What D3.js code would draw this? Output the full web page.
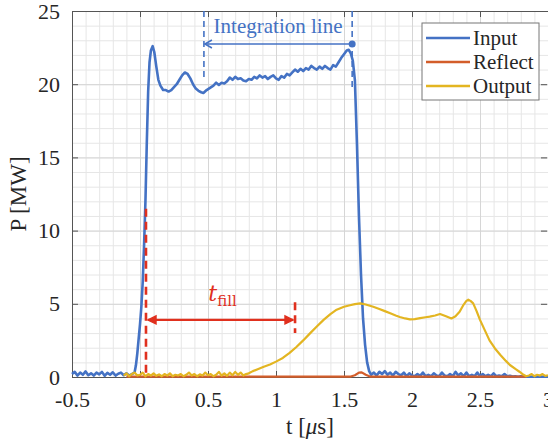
<!DOCTYPE html>
<html><head><meta charset="utf-8">
<script src="https://cdn.jsdelivr.net/npm/d3@7"></script>
<style>body{margin:0;background:#fff;overflow:hidden}svg{display:block}</style>
</head><body>
<svg id="chart" width="548" height="445"></svg>
<script>
// ---------- data ----------
const seriesNames = ["Input", "Reflect", "Output"];
const seriesColors = ["#4472C4", "#D35D2A", "#E3B521"];
const xTicks = [-0.5, 0, 0.5, 1, 1.5, 2, 2.5, 3];
const xTickLabels = ["-0.5", "0", "0.5", "1", "1.5", "2", "2.5", "3"];
const yTicks = [0, 5, 10, 15, 20, 25];
const yTickLabels = ["0", "5", "10", "15", "20", "25"];

const inputData = [
[-0.50,.2],[-0.48,.35],[-0.46,.1],[-0.44,.3],[-0.42,.15],[-0.40,.38],[-0.38,.12],[-0.36,.25],[-0.34,.1],[-0.32,.3],
[-0.30,.18],[-0.28,.35],[-0.26,.08],[-0.24,.28],[-0.22,.15],[-0.20,.32],[-0.18,.1],[-0.16,.22],[-0.14,.3],[-0.12,.12],
[-0.10,.25],[-0.08,.1],[-0.06,.2],[-0.04,.3],[-0.03,.8],[-0.02,1.6],[-0.01,2.6],[0,3.6],[0.01,4.8],[0.02,6.5],
[0.03,9],[0.04,12],[0.05,16],[0.06,19.5],[0.07,21.5],[0.08,22.3],[0.093,22.6],[0.105,22.2],[0.12,21.2],[0.135,20.3],
[0.15,19.9],[0.17,19.6],[0.19,19.6],[0.21,19.5],[0.23,19.6],[0.25,19.8],[0.27,20.0],[0.29,20.3],[0.31,20.6],[0.33,20.8],
[0.35,20.7],[0.37,20.4],[0.39,20.0],[0.41,19.7],[0.43,19.55],[0.45,19.45],[0.466,19.4],[0.49,19.6],[0.515,19.75],[0.54,19.9],
[0.56,20.1],[0.58,19.95],[0.60,20.1],[0.62,20.05],[0.64,20.2],[0.66,20.45],[0.68,20.3],[0.70,20.5],[0.72,20.35],[0.74,20.4],
[0.76,20.25],[0.78,20.2],[0.80,20.35],[0.82,20.3],[0.84,20.5],[0.86,20.4],[0.88,20.6],[0.90,20.45],[0.92,20.55],[0.94,20.35],
[0.96,20.5],[0.98,20.6],[1.00,20.4],[1.02,20.3],[1.04,20.55],[1.06,20.45],[1.08,20.7],[1.10,20.6],[1.12,20.8],[1.14,21.0],
[1.16,20.85],[1.18,21.05],[1.20,20.9],[1.22,21.1],[1.24,21.0],[1.26,21.25],[1.28,21.1],[1.30,21.0],[1.32,21.2],[1.34,21.05],
[1.36,21.25],[1.38,21.1],[1.40,21.0],[1.42,21.3],[1.44,21.2],[1.46,21.5],[1.48,21.8],[1.50,22.05],[1.52,22.3],[1.535,22.35],
[1.55,22.1],[1.565,21.6],[1.58,20.3],[1.595,16],[1.61,11],[1.625,7],[1.64,4],[1.655,2.2],[1.67,1.0],[1.685,0.4],
[1.70,0.15],[1.72,.3],[1.74,.1],[1.76,.35],[1.78,.2],[1.80,.4],[1.82,.15],[1.84,.3],[1.86,.1],[1.88,.35],
[1.90,.2],[1.92,.12],[1.94,.3],[1.96,.05],[1.98,.25],[2.00,.1],[2.02,.05],[2.04,.2],[2.06,.08],[2.08,.3],
[2.10,.05],[2.12,.15],[2.14,.05],[2.16,.25],[2.18,.1],[2.20,.05],[2.22,.3],[2.24,.1],[2.26,.05],[2.28,.2],
[2.30,.05],[2.32,.35],[2.34,.1],[2.36,.25],[2.38,.05],[2.40,.3],[2.42,.05],[2.44,.15],[2.46,.05],[2.48,.3],
[2.50,.05],[2.52,.2],[2.54,.05],[2.56,.15],[2.58,.05],[2.60,.25],[2.62,.05],[2.64,.1],[2.66,.05],[2.68,.2],
[2.70,.05],[2.72,.08],[2.74,.03],[2.76,.05],[2.78,.02],[2.80,.04],[2.85,.02],[2.90,.03],[3.00,.02]
];
const reflectData = [
[-0.1,0.03],[1.55,0.03],[1.58,0.12],[1.61,0.3],[1.63,0.32],[1.66,0.15],[1.69,0.03],[2.84,0.03]
];
const outputData = [
[-0.12,.1],[-0.10,.25],[-0.08,.05],[-0.06,.2],[-0.04,.3],[-0.02,.1],[0,.15],[0.02,.3],[0.04,.05],[0.06,.2],
[0.08,.1],[0.10,.25],[0.12,.08],[0.14,.18],[0.16,.05],[0.18,.2],[0.20,.1],[0.22,.25],[0.24,.05],[0.26,.15],
[0.28,.1],[0.30,.2],[0.32,.05],[0.34,.15],[0.36,.3],[0.38,.1],[0.40,.2],[0.42,.05],[0.44,.18],[0.46,.1],
[0.48,.3],[0.50,.12],[0.52,.2],[0.54,.05],[0.56,.15],[0.58,.35],[0.60,.1],[0.62,.25],[0.64,.08],[0.66,.3],
[0.68,.12],[0.70,.35],[0.72,.15],[0.74,.3],[0.76,.1],[0.78,.2],[0.80,.25],[0.83,.4],[0.87,.55],[0.91,.7],
[0.956,.85],[1.0,1.05],[1.05,1.3],[1.10,1.65],[1.15,2.05],[1.20,2.5],[1.25,2.98],[1.30,3.45],[1.35,3.9],[1.40,4.3],
[1.446,4.6],[1.50,4.8],[1.544,4.9],[1.58,4.98],[1.62,5.03],[1.66,4.95],[1.715,4.8],[1.76,4.65],[1.80,4.5],[1.84,4.35],
[1.88,4.2],[1.91,4.1],[1.95,4.0],[1.985,3.94],[2.02,3.95],[2.06,4.02],[2.10,4.08],[2.13,4.12],[2.17,4.2],[2.206,4.3],
[2.25,4.15],[2.29,4.0],[2.32,4.15],[2.35,4.46],[2.38,4.95],[2.40,5.2],[2.414,5.28],[2.43,5.2],[2.45,5.03],[2.475,4.5],
[2.50,3.9],[2.535,3.2],[2.57,2.5],[2.61,1.95],[2.65,1.5],[2.69,1.1],[2.72,0.82],[2.76,0.55],[2.79,0.36],[2.82,0.15],
[2.84,0.05],[2.86,0.1],[2.88,0.2],[2.90,0.05],[2.92,0.15],[2.94,0.1],[2.96,0.2],[2.98,0.08],[3.0,0.12]
];
// annotation values (data units)
const integStart = 0.47, integEnd = 1.56, integArrowP = 22.75;
const tfillStart = 0.044, tfillEnd = 1.14, tfillArrowP = 3.9;

// ---------- layout ----------
const svg = d3.select("#chart");
const mLeft = 72, mRight = 548, mTop = 11, mBottom = 377;
const x = d3.scaleLinear().domain([-0.5, 3]).range([mLeft, mRight]);
const y = d3.scaleLinear().domain([0, 25]).range([mBottom, mTop]);
const serif = "'Liberation Serif', 'Times New Roman', serif";

// grid
const g = svg.append("g");
g.append("g").attr("transform", `translate(0,${mBottom})`)
  .call(d3.axisBottom(x).tickValues(d3.range(-0.5, 3.001, 0.1)).tickSize(-(mBottom - mTop)).tickFormat(""))
  .call(s => { s.select(".domain").remove(); s.selectAll("line").attr("stroke", "#e6e6e6"); });
g.append("g").attr("transform", `translate(${mLeft},0)`)
  .call(d3.axisLeft(y).tickValues(d3.range(0, 25.001, 1)).tickSize(-(mRight - mLeft)).tickFormat(""))
  .call(s => { s.select(".domain").remove(); s.selectAll("line").attr("stroke", "#e6e6e6"); });
g.append("g").attr("transform", `translate(0,${mBottom})`)
  .call(d3.axisBottom(x).tickValues(xTicks).tickSize(-(mBottom - mTop)).tickFormat(""))
  .call(s => { s.select(".domain").remove(); s.selectAll("line").attr("stroke", "#d6d6d6"); });
g.append("g").attr("transform", `translate(${mLeft},0)`)
  .call(d3.axisLeft(y).tickValues(yTicks).tickSize(-(mRight - mLeft)).tickFormat(""))
  .call(s => { s.select(".domain").remove(); s.selectAll("line").attr("stroke", "#d6d6d6"); });

// axes
const axisColor = "#555";
function styleAxis(s) {
  s.select(".domain").attr("stroke", axisColor);
  s.selectAll(".tick line").attr("stroke", axisColor);
  s.selectAll("text").attr("fill", "#262626").style("font-family", serif).style("font-size", "22px");
}
svg.append("g").attr("transform", `translate(0,${mBottom})`)
  .call(d3.axisBottom(x).tickValues(xTicks).tickFormat((d, i) => xTickLabels[i]).tickSizeInner(-6).tickSizeOuter(0).tickPadding(14))
  .call(styleAxis);
svg.append("g").attr("transform", `translate(${mLeft},0)`)
  .call(d3.axisLeft(y).tickValues(yTicks).tickFormat((d, i) => yTickLabels[i]).tickSizeInner(-6).tickSizeOuter(0).tickPadding(12))
  .call(styleAxis);
svg.append("g").attr("transform", `translate(0,${mTop})`)
  .call(d3.axisTop(x).tickValues(xTicks).tickFormat("").tickSizeInner(-6).tickSizeOuter(0))
  .call(styleAxis);
svg.append("g").attr("transform", `translate(${mRight - 1},0)`)
  .call(d3.axisRight(y).tickValues(yTicks).tickFormat("").tickSizeInner(-6).tickSizeOuter(0))
  .call(s => { styleAxis(s); s.select(".domain").remove(); });

// series
const line = d3.line().x(d => x(d[0])).y(d => y(d[1]));
const allData = [inputData, reflectData, outputData];
const widths = [2.6, 2.2, 2.2];
allData.forEach((data, i) => {
  svg.append("path").datum(data).attr("d", line)
    .attr("fill", "none").attr("stroke", seriesColors[i]).attr("stroke-width", widths[i])
    .attr("stroke-linejoin", "round");
});

// integration line annotation
const blue = "#4472C4";
svg.append("line").attr("x1", x(integStart)).attr("x2", x(integStart)).attr("y1", y(25)).attr("y2", y(20.3))
  .attr("stroke", blue).attr("stroke-width", 1.6).attr("stroke-dasharray", "6,4");
svg.append("line").attr("x1", x(integEnd)).attr("x2", x(integEnd)).attr("y1", y(25)).attr("y2", y(19.6))
  .attr("stroke", blue).attr("stroke-width", 1.6).attr("stroke-dasharray", "6,4");
svg.append("line").attr("x1", x(integStart) + 1).attr("x2", x(integEnd)).attr("y1", y(integArrowP)).attr("y2", y(integArrowP))
  .attr("stroke", blue).attr("stroke-width", 1.6);
svg.append("path")
  .attr("d", `M${x(integStart) + 8},${y(integArrowP) - 4}L${x(integStart) + 1},${y(integArrowP)}L${x(integStart) + 8},${y(integArrowP) + 4}`)
  .attr("fill", "none").attr("stroke", blue).attr("stroke-width", 1.6);
svg.append("circle").attr("cx", x(integEnd)).attr("cy", y(integArrowP)).attr("r", 3.5).attr("fill", blue);
svg.append("text").attr("x", x((integStart + integEnd) / 2)).attr("y", 33)
  .attr("text-anchor", "middle").attr("fill", blue).style("font-family", serif).style("font-size", "21px")
  .text("Integration line");

// t_fill annotation
const red = "#E0301E";
svg.append("line").attr("x1", x(tfillStart)).attr("x2", x(tfillStart)).attr("y1", y(11.5)).attr("y2", y(0))
  .attr("stroke", red).attr("stroke-width", 2.6).attr("stroke-dasharray", "8,5");
svg.append("line").attr("x1", x(tfillEnd)).attr("x2", x(tfillEnd)).attr("y1", y(5.1)).attr("y2", y(3.0))
  .attr("stroke", red).attr("stroke-width", 2.6).attr("stroke-dasharray", "8,5");
const ay = y(tfillArrowP);
svg.append("line").attr("x1", x(tfillStart) + 2).attr("x2", x(tfillEnd) - 2).attr("y1", ay).attr("y2", ay)
  .attr("stroke", red).attr("stroke-width", 2.2);
svg.append("path")
  .attr("d", `M${x(tfillStart) + 10},${ay - 4}L${x(tfillStart) + 2},${ay}L${x(tfillStart) + 10},${ay + 4}Z`)
  .attr("fill", red).attr("stroke", red).attr("stroke-width", 1.5);
svg.append("path")
  .attr("d", `M${x(tfillEnd) - 10},${ay - 4}L${x(tfillEnd) - 2},${ay}L${x(tfillEnd) - 10},${ay + 4}Z`)
  .attr("fill", red).attr("stroke", red).attr("stroke-width", 1.5);
const tf = svg.append("text").attr("x", x((tfillStart + tfillEnd) / 2) + 2).attr("y", 301)
  .attr("text-anchor", "middle").attr("fill", red).style("font-family", "'DejaVu Serif', serif");
tf.append("tspan").style("font-style", "italic").style("font-size", "22px").text("t");
tf.append("tspan").attr("dy", 5).style("font-size", "15px").text("fill");

// axis labels
svg.append("text").attr("transform", `translate(26,${(mTop + mBottom) / 2}) rotate(-90)`)
  .attr("text-anchor", "middle").attr("fill", "#262626").style("font-family", serif).style("font-size", "23px")
  .text("P [MW]");
const xl = svg.append("text").attr("x", (mLeft + mRight) / 2).attr("y", 434)
  .attr("text-anchor", "middle").attr("fill", "#262626").style("font-family", serif).style("font-size", "23px");
xl.append("tspan").text("t [");
xl.append("tspan").style("font-style", "italic").text("μ");
xl.append("tspan").text("s]");

// legend
const lg = svg.append("g").attr("transform", "translate(422,23)");
lg.append("rect").attr("x", 0).attr("y", 0).attr("width", 117).attr("height", 77)
  .attr("fill", "#fff").attr("stroke", "#777").attr("stroke-width", 1);
seriesNames.forEach((n, i) => {
  const yy = 15 + i * 24;
  lg.append("line").attr("x1", 4).attr("x2", 48).attr("y1", yy).attr("y2", yy)
    .attr("stroke", seriesColors[i]).attr("stroke-width", 2.4);
  lg.append("text").attr("x", 51).attr("y", yy + 7).attr("fill", "#262626")
    .style("font-family", serif).style("font-size", "21px").text(n);
});
</script>
</body></html>
